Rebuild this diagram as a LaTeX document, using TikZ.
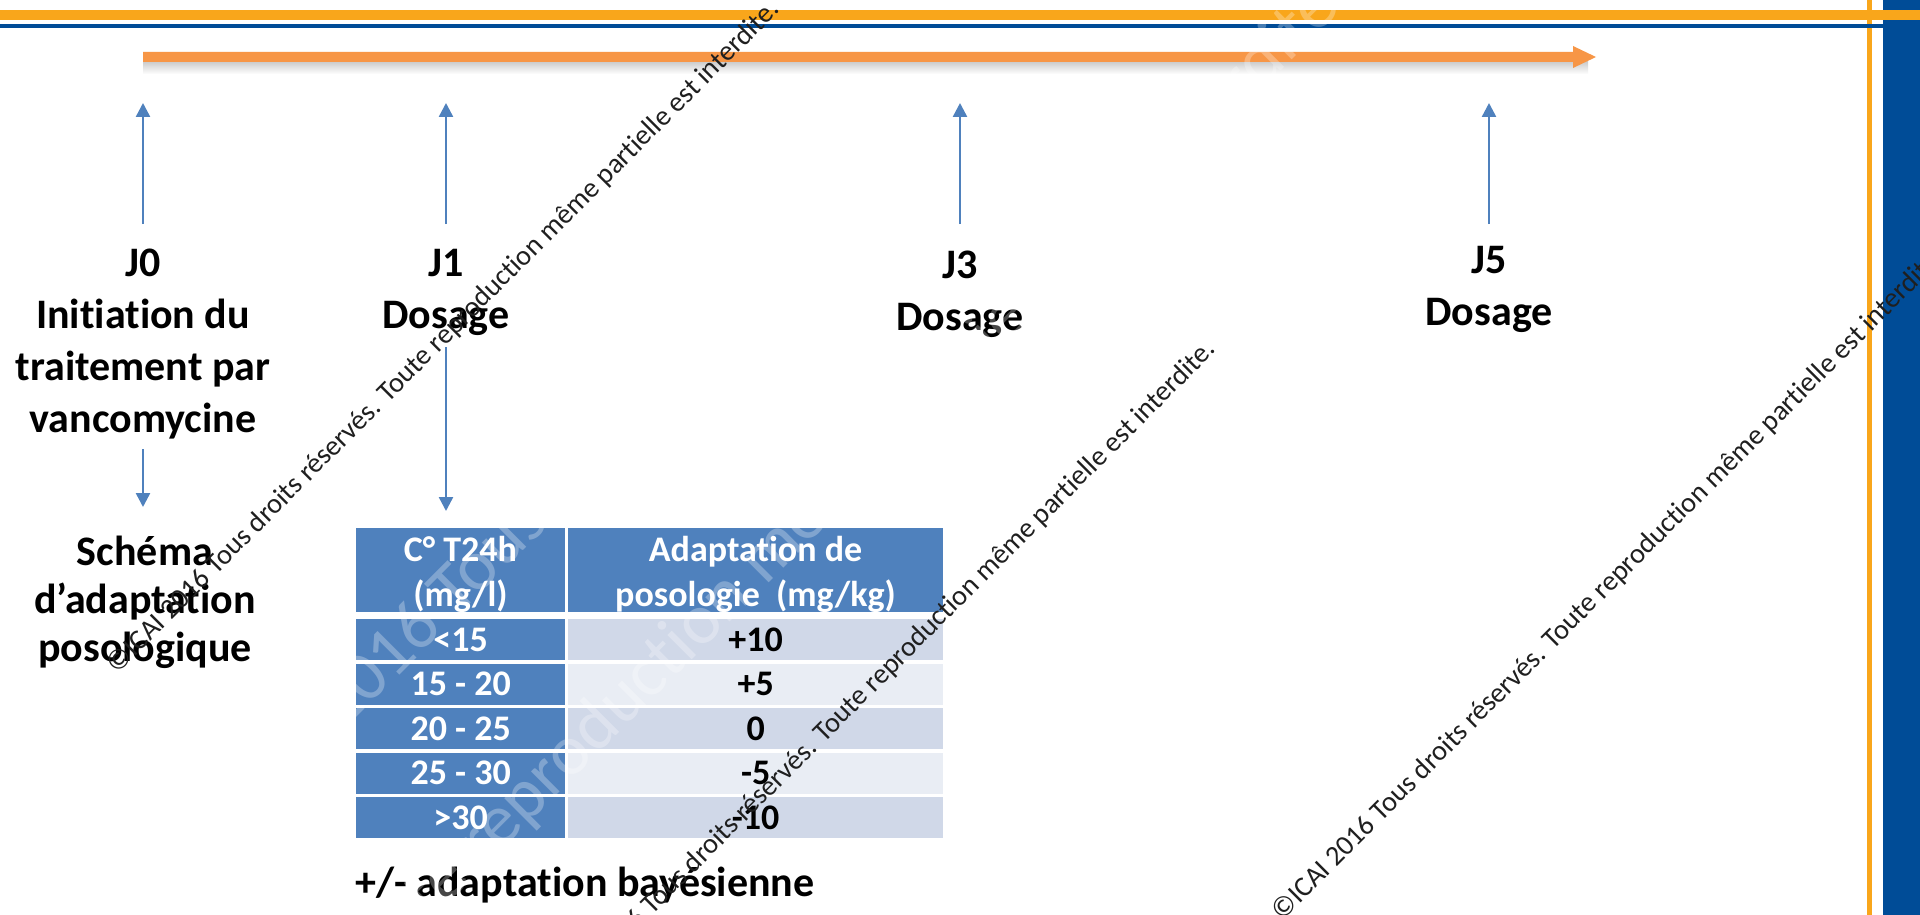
\documentclass[tikz,border=0pt]{standalone}
\usepackage{fontspec}
\setmainfont{Carlito}[Ligatures=NoCommon]
\usetikzlibrary{arrows.meta}
\definecolor{topor}{HTML}{F9A61B}
\definecolor{navy}{HTML}{004C97}
\definecolor{arror}{HTML}{F79646}
\definecolor{tblue}{HTML}{4F81BD}
\definecolor{rowa}{HTML}{D0D8E8}
\definecolor{rowb}{HTML}{E9EDF4}
\newcommand{\lblfont}{\fontsize{42pt}{52pt}\selectfont\bfseries}
\newcommand{\schfont}{\fontsize{42pt}{48pt}\selectfont\bfseries}
\newcommand{\tblfont}{\fontsize{36pt}{45pt}\selectfont\bfseries}
\newcommand{\wmfont}{\fontsize{28.3pt}{34pt}\selectfont}
\newcommand{\bigwmfont}{\fontsize{72pt}{86pt}\selectfont}
\begin{document}
\begin{tikzpicture}[x=1pt,y=-1pt,
  lbl/.style={font=\lblfont, align=center, inner sep=0pt, text=black},
  sch/.style={font=\schfont, align=center, inner sep=0pt, text=black},
  barrow/.style={draw=tblue, line width=2.5pt, -{Triangle[width=14pt,length=14pt]}},
  hcell/.style={fill=tblue, inner sep=0pt, anchor=north west, minimum height=84pt},
  htext/.style={text=white, font=\tblfont, align=center, inner sep=0pt},
  kcell/.style={fill=tblue, text=white, font=\tblfont, inner sep=0pt, anchor=north west, minimum width=209pt, minimum height=41pt},
  vcell/.style={text=black, font=\tblfont, inner sep=0pt, anchor=north west, minimum width=375pt, minimum height=41pt},
  wm/.style={font=\wmfont, text=black!88, inner sep=0pt, rotate=45},
  bigwm/.style={font=\bigwmfont, text=white, text opacity=0.28, inner sep=0pt, rotate=45, anchor=base west}]
\useasboundingbox (0,0) rectangle (1920,915);
\begin{scope}
\clip (0,0) rectangle (1920,915);
\fill[white] (0,0) rectangle (1920,915);
% frame bands
\fill[navy] (1883,0) rectangle (1920,915);
\fill[topor] (1867,0) rectangle (1872,915);
\fill[navy] (0,24) rectangle (1883,28);
\fill[topor] (0,10) rectangle (1920,20);
% timeline arrow with shadow
\shade[top color=black!35, bottom color=white, opacity=0.6] (143,61) rectangle (1588,74);
\fill[arror] (143,52) -- (1573,52) -- (1573,46) -- (1596,57) -- (1573,68) -- (1573,62) -- (143,62) -- cycle;
% labels
\node[lbl] (j0) at (143,344) {J0\\Initiation du\\traitement par\\vancomycine};
\node[lbl] (j1) at (446,292) {J1\\Dosage};
\node[lbl] (j3) at (960,294) {J3\\Dosage};
\node[lbl] (j5) at (1489,289) {J5\\Dosage};
\node[sch] (schema) at (145,602) {Schéma\\d’adaptation\\posologique};
% arrow end points
\coordinate (j0b) at (143,224); \coordinate (j0t) at (143,103);
\coordinate (j1b) at (446,224); \coordinate (j1t) at (446,103);
\coordinate (j3b) at (960,224); \coordinate (j3t) at (960,103);
\coordinate (j5b) at (1489,224); \coordinate (j5t) at (1489,103);
\coordinate (d0a) at (143,449); \coordinate (d0b) at (143,507);
\coordinate (d1a) at (446,347); \coordinate (d1b) at (446,511);
\draw[barrow] (j0b) -- (j0t);
\draw[barrow] (j1b) -- (j1t);
\draw[barrow] (j3b) -- (j3t);
\draw[barrow] (j5b) -- (j5t);
\draw[barrow] (d0a) -- (d0b);
\draw[barrow] (d1a) -- (d1b);
% table
\node[hcell, minimum width=209pt] (h1) at (356,528) {};
\node[hcell, minimum width=375pt] (h2) at (568,528) {};
\node[htext] (h1t) at (460.5,574) {C° T24h\\(mg/l)};
\node[htext] (h2t) at (755.5,574) {Adaptation de\\posologie~~(mg/kg)};
\node[kcell] (k1) at (356,619) {<15};
\node[kcell] (k2) at (356,663.5) {15 - 20};
\node[kcell] (k3) at (356,708) {20 - 25};
\node[kcell] (k4) at (356,752.5) {25 - 30};
\node[kcell] (k5) at (356,797) {>30};
\node[vcell, fill=rowa] (v1) at (568,619) {+10};
\node[vcell, fill=rowb] (v2) at (568,663.5) {+5};
\node[vcell, fill=rowa] (v3) at (568,708) {0};
\node[vcell, fill=rowb] (v4) at (568,752.5) {-5};
\node[vcell, fill=rowa] (v5) at (568,797) {-10};
\node[font=\lblfont, inner sep=0pt, anchor=west] (bayes) at (355,885) {+/- adaptation bayésienne};
% faint large watermark
\node[bigwm] (bwm1) at (205,869) {©ICAI 2016 Tous droits réservés.};
\node[bigwm] (bwm2) at (356,996) {Toute reproduction même partielle est interdite.};
% watermarks
\node[wm] (wmA) at (444,337) {©ICAI 2016 Tous droits réservés. Toute reproduction même partielle est interdite.};
\node[wm] (wmB) at (880,677) {©ICAI 2016 Tous droits réservés. Toute reproduction même partielle est interdite.};
\node[wm] (wmC) at (1609,584) {©ICAI 2016 Tous droits réservés. Toute reproduction même partielle est interdite.};
\end{scope}
\end{tikzpicture}
\end{document}
